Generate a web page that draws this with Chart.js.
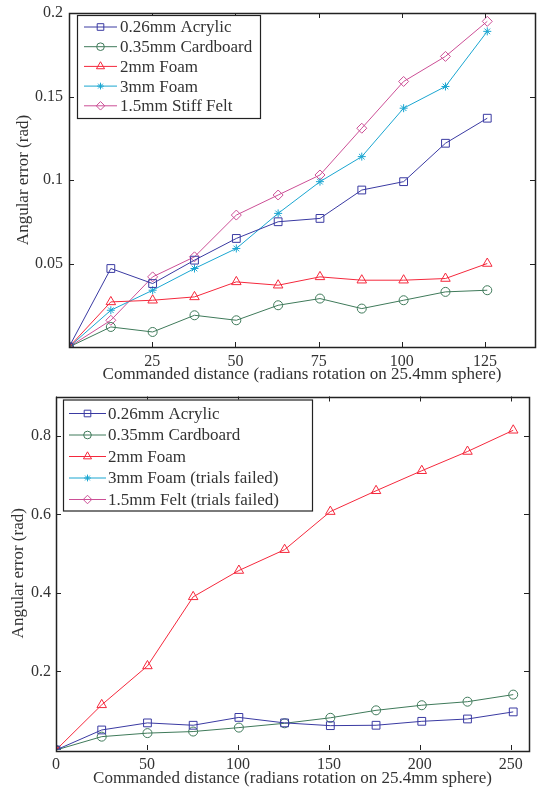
<!DOCTYPE html>
<html>
<head>
<meta charset="utf-8">
<script src="https://cdn.jsdelivr.net/npm/chart.js@4/dist/chart.umd.min.js"></script>
<style>
  body { margin: 0; background: #fff; }
  .panel { position: absolute; left: 0; width: 542px; }
  #top { top: 0; height: 390px; }
  #bottom { top: 390px; height: 399px; }
</style>
</head>
<body>
<div class="panel" id="top"><canvas id="chart-top"></canvas></div>
<div class="panel" id="bottom"><canvas id="chart-bottom"></canvas></div>
<script>
// top panel: short distances
const topDistance = [0, 12.57, 25.13, 37.70, 50.27, 62.83, 75.40, 87.96, 100.53, 113.10, 125.66];
const topAcrylic   = [0, 0.047, 0.038, 0.052, 0.065, 0.075, 0.077, 0.094, 0.099, 0.122, 0.137];
const topCardboard = [0, 0.012, 0.009, 0.019, 0.016, 0.025, 0.029, 0.023, 0.028, 0.033, 0.034];
const topFoam2     = [0, 0.027, 0.028, 0.030, 0.039, 0.037, 0.042, 0.040, 0.040, 0.041, 0.050];
const topFoam3     = [0, 0.022, 0.034, 0.047, 0.059, 0.080, 0.099, 0.114, 0.143, 0.156, 0.189];
const topFelt      = [0, 0.016, 0.042, 0.054, 0.079, 0.091, 0.103, 0.131, 0.159, 0.174, 0.195];
const topXTicks = [25, 50, 75, 100, 125];
const topYTicks = [0.05, 0.1, 0.15, 0.2];

// bottom panel: long distances
const bottomDistance = [0, 25.13, 50.27, 75.40, 100.53, 125.66, 150.80, 175.93, 201.06, 226.19, 251.33];
const bottomAcrylic   = [0, 0.051, 0.069, 0.063, 0.083, 0.069, 0.062, 0.063, 0.073, 0.079, 0.097];
const bottomCardboard = [0, 0.034, 0.043, 0.047, 0.057, 0.068, 0.082, 0.101, 0.114, 0.123, 0.141];
const bottomFoam2     = [0, 0.115, 0.214, 0.390, 0.457, 0.510, 0.607, 0.660, 0.711, 0.760, 0.814];
const bottomFoam3     = [0];
const bottomFelt      = [0];
const bottomXTicks = [0, 50, 100, 150, 200, 250];
const bottomYTicks = [0.2, 0.4, 0.6, 0.8];

const topLabels = ['0.26mm Acrylic', '0.35mm Cardboard', '2mm Foam', '3mm Foam', '1.5mm Stiff Felt'];
const bottomLabels = ['0.26mm Acrylic', '0.35mm Cardboard', '2mm Foam', '3mm Foam (trials failed)', '1.5mm Felt (trials failed)'];

const colors = {
    acrylic: '#3a3aa2',
    cardboard: '#3f7a5a',
    foam2: '#f5283c',
    foam3: '#1aa6d1',
    felt: '#cc4f96'
};
const styles = [
    { color: colors.acrylic, pointStyle: 'rect', radius: 5.5 },
    { color: colors.cardboard, pointStyle: 'circle', radius: 4.5 },
    { color: colors.foam2, pointStyle: 'triangle', radius: 5.5 },
    { color: colors.foam3, pointStyle: 'star', radius: 4 },
    { color: colors.felt, pointStyle: 'rectRot', radius: 5 }
];

const textColor = '#333';
const serif = "'Liberation Serif', 'Times New Roman', serif";

function points(xs, ys) {
    return ys.map((y, i) => ({ x: xs[i], y: y }));
}

function makeDatasets(labels, xs, series) {
    return series.map((ys, i) => ({
        label: labels[i],
        data: points(xs, ys),
        borderColor: styles[i].color,
        backgroundColor: 'transparent',
        borderWidth: 1,
        pointStyle: styles[i].pointStyle,
        pointRadius: styles[i].radius,
        pointBorderColor: styles[i].color,
        pointBackgroundColor: 'transparent',
        pointBorderWidth: 1,
        tension: 0
    }));
}

// frame around the plot and MATLAB style inward ticks
const framePlugin = {
    id: 'frame',
    afterDatasetsDraw(chart) {
        const { ctx, chartArea: a } = chart;
        const len = 5;
        ctx.save();
        ctx.strokeStyle = '#222';
        ctx.lineWidth = 1;
        ctx.beginPath();
        chart.scales.x.ticks.forEach(t => {
            const px = Math.round(chart.scales.x.getPixelForValue(t.value)) + 0.5;
            ctx.moveTo(px, a.bottom); ctx.lineTo(px, a.bottom - len);
            ctx.moveTo(px, a.top); ctx.lineTo(px, a.top + len);
        });
        chart.scales.y.ticks.forEach(t => {
            const py = Math.round(chart.scales.y.getPixelForValue(t.value)) + 0.5;
            ctx.moveTo(a.left, py); ctx.lineTo(a.left + len, py);
            ctx.moveTo(a.right, py); ctx.lineTo(a.right - len, py);
        });
        ctx.stroke();
        ctx.lineWidth = 1.5;
        ctx.strokeRect(Math.round(a.left) + 0.5, Math.round(a.top) + 0.5,
            Math.round(a.right - a.left), Math.round(a.bottom - a.top));
        ctx.restore();
    }
};

// legend drawn in a box inside the plot area
const boxLegendPlugin = {
    id: 'boxLegend',
    afterDraw(chart, args, opts) {
        const { ctx, chartArea: a } = chart;
        const x0 = a.left + opts.x, y0 = a.top + opts.y;
        ctx.save();
        ctx.fillStyle = '#fff';
        ctx.fillRect(x0, y0, opts.w, opts.h);
        ctx.strokeStyle = '#222';
        ctx.lineWidth = 1.2;
        ctx.strokeRect(x0 + 0.5, y0 + 0.5, opts.w, opts.h);
        ctx.font = '17px ' + serif;
        ctx.textBaseline = 'middle';
        chart.data.datasets.forEach((ds, i) => {
            const cy = y0 + opts.first + i * opts.step;
            ctx.strokeStyle = ds.borderColor;
            ctx.lineWidth = 1;
            ctx.beginPath();
            ctx.moveTo(x0 + opts.lineFrom, cy);
            ctx.lineTo(x0 + opts.lineTo, cy);
            ctx.stroke();
            ctx.fillStyle = 'rgba(0,0,0,0)';
            Chart.helpers.drawPoint(ctx, {
                pointStyle: ds.pointStyle,
                radius: ds.pointRadius * 0.85,
                borderWidth: 1,
                rotation: 0
            }, x0 + (opts.lineFrom + opts.lineTo) / 2, cy);
            ctx.fillStyle = textColor;
            ctx.fillText(ds.label, x0 + opts.textX, cy + 1);
        });
        ctx.restore();
    }
};

function axisOptions(min, max, ticks, width, height, tickPad, title, titlePad, isX) {
    return {
        type: 'linear',
        min: min,
        max: max,
        grid: { display: false, drawTicks: false },
        border: { display: false },
        ticks: {
            color: textColor,
            padding: tickPad,
            font: { family: serif, size: 16 },
            maxRotation: 0,
            callback: v => String(v)
        },
        title: { display: true, text: title, color: textColor, font: { family: serif, size: 17 }, padding: titlePad },
        afterBuildTicks: s => { s.ticks = ticks.map(v => ({ value: v })); },
        afterFit: s => {
            if (isX) { s.height = height; s.paddingLeft = 0; s.paddingRight = 0; }
            else { s.width = width; s.paddingTop = 0; s.paddingBottom = 0; }
        }
    };
}

function makeChart(id, datasets, cfg) {
    return new Chart(document.getElementById(id), {
        type: 'line',
        data: { datasets: datasets },
        options: {
            responsive: true,
            maintainAspectRatio: false,
            animation: false,
            layout: { padding: cfg.padding },
            plugins: {
                legend: { display: false },
                tooltip: { enabled: false },
                boxLegend: cfg.legend
            },
            scales: {
                x: axisOptions(0, cfg.xMax, cfg.xTicks, 0, cfg.xHeight, 5, 'Commanded distance (radians rotation on 25.4mm sphere)', { top: 0, bottom: cfg.xTitlePad }, true),
                y: axisOptions(0, cfg.yMax, cfg.yTicks, cfg.yWidth, 0, cfg.yTickPad, 'Angular error (rad)', { top: cfg.yTitlePad, bottom: 0 }, false)
            }
        },
        plugins: [framePlugin, boxLegendPlugin]
    });
}

makeChart('chart-top',
    makeDatasets(topLabels, topDistance, [topAcrylic, topCardboard, topFoam2, topFoam3, topFelt]),
    {
        xMax: 140, yMax: 0.2, xTicks: topXTicks, yTicks: topYTicks,
        padding: { left: 0, right: 7, top: 13, bottom: 0 },
        xHeight: 43, yWidth: 69, yTickPad: 6, xTitlePad: 5, yTitlePad: 13,
        legend: { x: 8, y: 2, w: 183, h: 103, first: 12, step: 19.7, lineFrom: 7, lineTo: 40, textX: 43 }
    });

makeChart('chart-bottom',
    makeDatasets(bottomLabels, bottomDistance, [bottomAcrylic, bottomCardboard, bottomFoam2, bottomFoam3, bottomFelt]),
    {
        xMax: 260, yMax: 0.9, xTicks: bottomXTicks, yTicks: bottomYTicks,
        padding: { left: 0, right: 13, top: 1, bottom: 0 },
        xHeight: 39, yWidth: 56, yTickPad: 5, xTitlePad: 0, yTitlePad: 8,
        legend: { x: 7, y: 3, w: 249, h: 111, first: 14, step: 21.5, lineFrom: 6, lineTo: 43, textX: 45 }
    });
</script>
</body>
</html>
